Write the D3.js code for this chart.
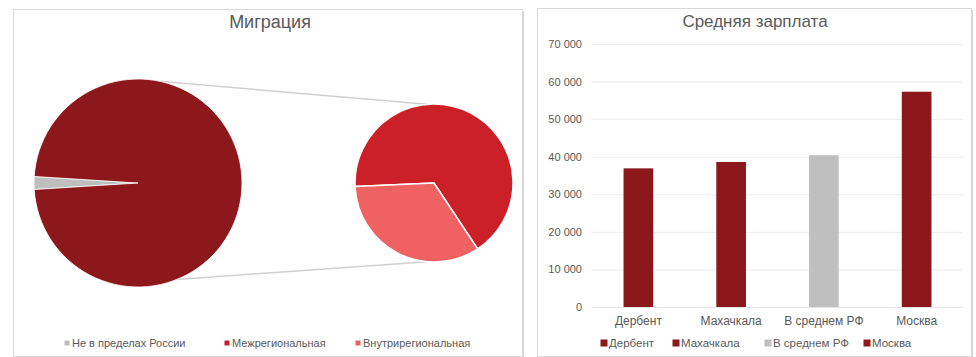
<!DOCTYPE html>
<html><head><meta charset="utf-8">
<script src="https://cdn.jsdelivr.net/npm/d3@7"></script>
<style>
html,body{margin:0;padding:0;background:#fff;}
svg{display:block;font-family:"Liberation Sans",Arial,sans-serif;}
</style></head>
<body>
<svg id="c" width="976" height="357"></svg>
<script>
// ---- data ----
const migTitle = "Миграция";
const migCategories = ["Не в пределах России", "Межрегиональная", "Внутрирегиональная"];
const mainPieValues = [2, 98];            // gray share vs combined share in main pie
const secondPieCategories = ["Межрегиональная", "Внутрирегиональная"];
const secondPieValues = [66.4, 33.6];
const migColors = ["#bfbfbf", "#8c181b", "#f06262"];
const secondColors = ["#cb2027", "#f06262"];

const salTitle = "Средняя зарплата";
const salCategories = ["Дербент", "Махачкала", "В среднем РФ", "Москва"];
const salValues = [36900, 38600, 40400, 57300];
const salColors = ["#8c181b", "#8c181b", "#bfbfbf", "#8c181b"];
const salTicks = [0, 10000, 20000, 30000, 40000, 50000, 60000, 70000];

const svg = d3.select("#c");
const txt = "#595959";

// ---- panels ----
function panel(x, y, w, h) {
  svg.append("rect").attr("x", x + 1.5).attr("y", y + 1.5).attr("width", w).attr("height", h)
    .attr("fill", "#d6d6d6");
  svg.append("rect").attr("x", x).attr("y", y).attr("width", w).attr("height", h)
    .attr("fill", "#fff").attr("stroke", "#d9d9d9").attr("stroke-width", 1);
}
panel(13.5, 9.5, 509, 347);
panel(537.5, 8.5, 434, 348);

// ---- left: pie of pie ----
svg.append("text").attr("x", 270).attr("y", 28).attr("text-anchor", "middle")
  .attr("font-size", 18).attr("fill", txt).text(migTitle);

const c1 = {x: 138, y: 183, r: 104};
const c2 = {x: 434, y: 183, r: 79};

// connector lines
function pt(c, a) { return [c.x + c.r * Math.sin(a), c.y - c.r * Math.cos(a)]; }
const deg = Math.PI / 180;
const lines = [[pt(c1, 12 * deg), pt(c2, -5 * deg)], [pt(c1, 158 * deg), pt(c2, 185 * deg)]];
svg.append("g").selectAll("line").data(lines).join("line")
  .attr("x1", d => d[0][0]).attr("y1", d => d[0][1])
  .attr("x2", d => d[1][0]).attr("y2", d => d[1][1])
  .attr("stroke", "#d0d0d0").attr("stroke-width", 1.5);

// main pie: gray slice centered at left (270deg)
const grayAngle = mainPieValues[0] / d3.sum(mainPieValues) * 2 * Math.PI;
const pie1 = d3.pie().sort(null).value(d => d)
  .startAngle(270 * deg - grayAngle / 2).endAngle(270 * deg - grayAngle / 2 + 2 * Math.PI);
const arc1 = d3.arc().innerRadius(0).outerRadius(c1.r);
svg.append("g").attr("transform", `translate(${c1.x},${c1.y})`)
  .selectAll("path").data(pie1(mainPieValues)).join("path")
  .attr("d", arc1).attr("fill", (d, i) => i === 0 ? migColors[0] : migColors[1])
  .attr("stroke", "#fff").attr("stroke-width", 0.8);

// second pie: light red from 146deg to 267deg
const lightStart = 146.5 * deg;
const pie2 = d3.pie().sort(null).value(d => d)
  .startAngle(lightStart + secondPieValues[1] / 100 * 2 * Math.PI)
  .endAngle(lightStart + secondPieValues[1] / 100 * 2 * Math.PI + 2 * Math.PI);
const arc2 = d3.arc().innerRadius(0).outerRadius(c2.r);
svg.append("g").attr("transform", `translate(${c2.x},${c2.y})`)
  .selectAll("path").data(pie2(secondPieValues)).join("path")
  .attr("d", arc2).attr("fill", (d, i) => secondColors[i])
  .attr("stroke", "#fff").attr("stroke-width", 1.5);

// legend
const migLegX = [67, 227, 358];
const lg1 = svg.append("g").selectAll("g").data(migCategories).join("g")
  .attr("transform", (d, i) => `translate(${migLegX[i]},343)`);
lg1.append("rect").attr("x", -2.5).attr("y", -2.5).attr("width", 5).attr("height", 5)
  .attr("fill", (d, i) => i === 1 ? "#cb2027" : migColors[i]);
lg1.append("text").attr("x", 5).attr("y", 4).attr("font-size", 11).attr("fill", txt).text(d => d);

// ---- right: bar chart ----
svg.append("text").attr("x", 755).attr("y", 27).attr("text-anchor", "middle")
  .attr("font-size", 17).attr("fill", txt).text(salTitle);

const x = d3.scaleBand().domain(salCategories).range([592, 963]).paddingInner(0.68).paddingOuter(0.34);
const y = d3.scaleLinear().domain([0, 70000]).range([307, 44]);
const fmt = v => d3.format(",")(v).replace(/,/g, " ");

const gy = svg.append("g").attr("transform", "translate(592,0)")
  .call(d3.axisLeft(y).tickValues(salTicks).tickFormat(fmt).tickSize(-371).tickPadding(10));
gy.select(".domain").remove();
gy.selectAll(".tick line").attr("stroke", "#ececec");
gy.selectAll(".tick text").attr("font-size", 11).attr("fill", txt).attr("font-family", "Liberation Sans, Arial, sans-serif");

svg.append("g").selectAll("rect").data(salValues).join("rect")
  .attr("x", (d, i) => x(salCategories[i])).attr("width", x.bandwidth())
  .attr("y", d => y(d)).attr("height", d => y(0) - y(d))
  .attr("fill", (d, i) => salColors[i]);

const gx = svg.append("g").attr("transform", "translate(0,307)")
  .call(d3.axisBottom(x).tickSize(0).tickPadding(9));
gx.select(".domain").attr("stroke", "#e6e6e6");
gx.selectAll(".tick text").attr("font-size", 12).attr("fill", txt).attr("font-family", "Liberation Sans, Arial, sans-serif");

const salLegX = [604, 676, 768, 867];
const lg2 = svg.append("g").selectAll("g").data(salCategories).join("g")
  .attr("transform", (d, i) => `translate(${salLegX[i]},343)`);
lg2.append("rect").attr("x", -3.5).attr("y", -3.5).attr("width", 7).attr("height", 7)
  .attr("fill", (d, i) => salColors[i]);
lg2.append("text").attr("x", 5).attr("y", 4).attr("font-size", 11.5).attr("fill", txt).text(d => d);
</script>
</body></html>
